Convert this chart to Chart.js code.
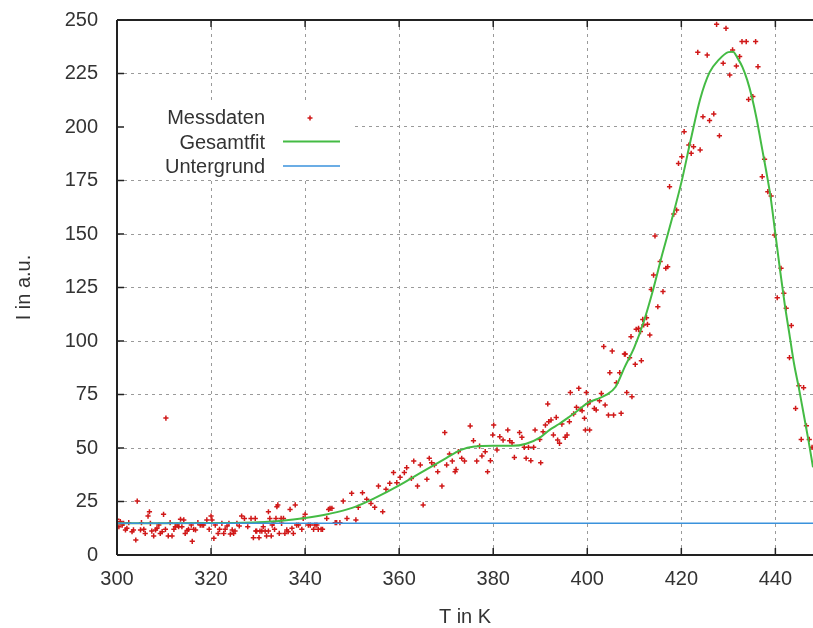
<!DOCTYPE html>
<html>
<head>
<meta charset="utf-8">
<script src="https://cdn.jsdelivr.net/npm/chart.js@4/dist/chart.umd.min.js"></script>
<style>
html,body{margin:0;padding:0;background:#fff;}
#wrap{width:813px;height:628px;}
</style>
</head>
<body>
<div id="wrap"><canvas id="c" width="813" height="628"></canvas></div>
<script>
// Messdaten (T in K, I in a.u.)
const measT = [
300.0,300.4,300.7,301.1,301.4,301.8,302.1,302.5,303.2,303.5,304.0,304.3,305.0,305.2,305.7,306.0,306.6,306.9,307.1,307.4,
307.8,308.2,308.5,308.9,309.2,309.6,309.9,310.3,310.4,310.9,311.3,311.7,312.1,312.4,312.8,313.1,313.5,313.8,314.2,314.5,
314.9,315.2,315.8,316.0,316.3,316.7,317.2,317.7,318.1,318.4,319.1,319.6,320.0,320.2,320.6,320.9,321.5,321.8,322.3,322.7,
323.0,323.4,323.8,324.1,324.5,324.8,325.1,325.5,326.0,326.5,327.1,327.8,328.5,329.0,329.4,329.5,329.7,330.2,330.4,330.8,
331.1,331.5,331.8,332.2,332.2,332.5,332.8,333.0,333.3,333.5,333.8,334.0,334.2,334.5,334.9,335.0,335.4,335.7,336.1,336.4,
336.8,337.2,337.5,337.9,338.2,338.6,339.3,339.6,340.0,340.7,341.1,341.8,342.1,342.5,342.8,343.4,343.7,344.6,345.0,345.3,
345.7,346.4,346.7,347.4,348.1,348.9,349.9,350.8,351.3,352.2,353.1,354.0,354.8,355.6,356.5,357.2,358.0,358.8,359.5,360.2,
361.1,361.6,362.6,363.1,363.9,364.5,365.1,365.9,366.4,366.9,367.5,368.2,369.1,369.7,370.1,370.7,371.3,371.9,372.1,372.6,
373.3,373.9,375.1,375.8,376.5,377.1,377.6,378.3,378.8,379.4,379.9,380.1,380.8,381.4,382.1,383.1,383.5,384.0,384.5,385.6,
386.1,386.6,387.0,387.5,388.0,388.6,388.9,389.9,390.1,390.6,391.1,391.6,391.8,392.3,392.8,393.4,393.7,394.1,394.6,395.3,
395.7,396.2,396.4,397.1,397.7,398.2,398.5,398.9,399.4,399.6,399.8,400.1,400.5,400.6,401.5,401.9,402.6,403.0,403.5,403.8,
404.5,404.8,405.3,405.6,406.2,406.9,407.2,407.9,408.1,408.4,409.0,409.3,409.5,410.2,410.4,410.9,411.3,411.5,411.8,412.0,
412.6,412.8,413.3,413.6,414.1,414.4,415.0,415.5,416.1,416.7,417.1,417.5,418.4,419.0,419.4,420.1,420.6,421.6,422.1,422.6,
423.5,424.0,424.6,425.5,426.0,426.9,427.5,428.1,428.9,429.5,430.3,430.9,431.7,432.4,432.9,433.8,434.3,435.2,435.8,436.3,
437.2,437.7,438.4,439.1,439.8,440.4,441.2,441.8,442.3,443.0,443.4,444.3,445.0,445.5,446.0,446.6,447.2,447.8
];
const measI = [
16.7,13.2,15.6,14.0,14.8,11.7,12.5,15.1,10.9,11.7,7.0,25.2,11.7,15.1,12.0,10.1,18.2,20.2,14.8,11.2,
8.9,11.7,12.5,14.0,10.1,10.9,19.0,12.0,64.0,8.9,15.1,8.9,12.0,13.2,14.0,13.2,16.7,13.2,16.4,10.1,
11.4,12.0,14.0,6.4,12.0,11.7,15.1,14.0,14.0,14.0,16.4,12.0,18.2,16.4,7.8,14.0,10.1,12.0,14.8,10.1,
12.0,13.6,14.8,9.8,11.7,10.1,11.2,14.8,13.6,18.2,17.1,13.2,17.1,8.1,17.1,11.2,11.2,8.1,11.2,11.2,
13.2,11.2,8.9,20.2,11.2,17.1,8.9,14.0,14.8,12.0,17.1,22.6,23.4,10.1,17.1,14.8,17.1,10.1,11.7,10.9,
21.3,12.5,10.1,23.4,14.0,14.0,12.0,17.1,19.0,14.0,14.0,12.0,14.0,14.0,12.0,12.0,12.0,17.1,21.3,21.8,
21.8,15.1,15.1,15.1,25.2,17.1,28.8,16.4,22.3,29.1,26.0,24.1,22.3,32.2,20.2,30.7,33.5,38.5,33.8,36.3,
38.5,40.8,35.8,43.9,32.2,42.1,23.4,35.4,45.2,43.1,42.1,38.9,32.2,57.2,42.1,47.2,43.9,38.9,40.0,48.3,
45.2,43.9,60.3,53.4,43.9,50.9,46.3,48.3,38.9,44.1,56.1,60.7,49.1,55.3,53.7,58.4,53.4,52.5,45.6,57.2,
55.0,50.3,45.2,50.3,44.1,50.3,58.4,54.0,43.1,57.6,60.7,70.6,62.3,63.1,56.1,64.3,53.7,52.2,61.2,55.0,
56.1,62.3,75.9,65.9,69.0,77.9,68.1,67.4,63.9,58.4,75.9,70.6,58.4,71.7,68.5,67.8,72.1,75.5,97.4,70.1,
65.4,85.2,95.3,65.4,80.5,85.2,66.2,93.9,93.9,75.9,92.2,102.0,74.0,89.1,105.5,105.9,104.4,90.8,110.1,107.5,
110.9,107.8,102.8,124.1,130.8,149.1,116.0,137.1,123.1,134.0,134.7,172.1,159.3,161.2,183.0,186.1,197.8,191.6,187.7,190.8,
234.9,189.3,204.8,233.6,203.0,206.1,248.0,195.9,229.8,246.1,224.3,236.0,228.5,232.9,239.9,239.9,212.9,214.2,239.9,228.2,
176.8,184.9,169.8,167.8,149.5,120.2,134.0,122.3,115.3,92.2,107.2,68.5,79.1,54.0,78.2,60.4,54.0,50.3
];
// Gesamtfit
const fitT = [300,310,320,325,330,335,340,345,350,355,360,365,370,373,376,380,384,387,390,392,394,396,398,400,402,404,406,408,410,412,414,416,418,420,422,424,426,428,430,431,432,433,434,435,436,437,438,439,440,441,442,443,444,445,446,447,448];
const fitI = [14.8,14.8,14.9,15.0,15.3,16.0,17.3,19.2,22.0,26.8,32.5,39.0,45.3,49.0,50.7,51.0,51.0,52.0,55.0,58.5,61.2,64.3,67.5,71.0,72.8,74.8,78.5,88,97,109,124,141,157,174,194,213,225.5,231.5,235,235.2,232,228,222,214,204,192,180,167,150,133,117,103,89,78,66,54,41];
// Untergrund
const bgT = [300,448];
const bgI = [14.8,14.8];
// Axes
const xTicks = [300,320,340,360,380,400,420,440];
const yTicks = [0,25,50,75,100,125,150,175,200,225,250];
const xMin = 300, xMax = 448, yMin = 0, yMax = 250;

const FONT = '"Liberation Sans", Arial, sans-serif';
const TXT = '#333333';
const RED = '#d01818', GREEN = '#44bb44', BLUE = '#3a92dc';

const frame = {
  id: 'frame',
  beforeDatasetsDraw(chart) {
    const {ctx, chartArea: a} = chart;
    ctx.save();
    ctx.fillStyle = '#ffffff';
    ctx.fillRect(a.left + 1, 104, 350 - a.left, 75);
    ctx.restore();
  },
  afterDraw(chart) {
    const {ctx, chartArea: a, scales} = chart;
    ctx.save();
    ctx.strokeStyle = '#222';
    ctx.lineWidth = 2;
    ctx.beginPath();
    ctx.moveTo(a.left, a.top); ctx.lineTo(a.right, a.top);
    ctx.moveTo(a.left, a.top); ctx.lineTo(a.left, a.bottom);
    ctx.moveTo(a.left, a.bottom); ctx.lineTo(a.right, a.bottom);
    ctx.stroke();
    ctx.lineWidth = 1.5;
    ctx.beginPath();
    yTicks.forEach(v => {
      const y = scales.y.getPixelForValue(v);
      ctx.moveTo(a.left, y); ctx.lineTo(a.left + 7, y);
    });
    xTicks.forEach(v => {
      const x = scales.x.getPixelForValue(v);
      ctx.moveTo(x, a.bottom); ctx.lineTo(x, a.bottom - 7);
      ctx.moveTo(x, a.top); ctx.lineTo(x, a.top + 7);
    });
    ctx.stroke();
    // legend
    ctx.font = '20px ' + FONT;
    ctx.fillStyle = TXT;
    ctx.textAlign = 'right';
    ctx.textBaseline = 'alphabetic';
    const labels = ['Messdaten', 'Gesamtfit', 'Untergrund'];
    const base = [124, 148.5, 173];
    labels.forEach((t, i) => ctx.fillText(t, 265, base[i]));
    ctx.strokeStyle = RED; ctx.lineWidth = 1.5;
    ctx.beginPath();
    ctx.moveTo(307.5, 118); ctx.lineTo(312.5, 118);
    ctx.moveTo(310, 115.5); ctx.lineTo(310, 120.5);
    ctx.stroke();
    ctx.strokeStyle = GREEN; ctx.lineWidth = 2;
    ctx.beginPath(); ctx.moveTo(283, 141.5); ctx.lineTo(340, 141.5); ctx.stroke();
    ctx.strokeStyle = BLUE; ctx.lineWidth = 1.5;
    ctx.beginPath(); ctx.moveTo(283, 166); ctx.lineTo(340, 166); ctx.stroke();
    // axis titles
    ctx.fillStyle = TXT;
    ctx.textAlign = 'center';
    ctx.textBaseline = 'alphabetic';
    ctx.fillText('T in K', (a.left + a.right) / 2, 623);
    ctx.translate(30, (a.top + a.bottom) / 2);
    ctx.rotate(-Math.PI / 2);
    ctx.fillText('I in a.u.', 0, 0);
    ctx.restore();
  }
};

const toXY = (xs, ys) => xs.map((x, i) => ({x: x, y: ys[i]}));

new Chart(document.getElementById('c'), {
  type: 'scatter',
  data: {
    datasets: [
      {
        label: 'Untergrund', data: toXY(bgT, bgI), showLine: true,
        borderColor: BLUE, borderWidth: 1.5, pointRadius: 0, order: 1
      },
      {
        label: 'Gesamtfit', data: toXY(fitT, fitI), showLine: true,
        borderColor: GREEN, borderWidth: 2, pointRadius: 0,
        cubicInterpolationMode: 'monotone', order: 2
      },
      {
        label: 'Messdaten', data: toXY(measT, measI), showLine: false,
        pointStyle: 'cross', pointRadius: 2.6, borderColor: RED, backgroundColor: RED,
        pointBorderWidth: 1.5, order: 3
      }
    ]
  },
  options: {
    responsive: false,
    animation: false,
    devicePixelRatio: 1,
    layout: {autoPadding: false, padding: {top: 20, left: 0, right: 0, bottom: 0}},
    plugins: {legend: {display: false}, tooltip: {enabled: false}},
    scales: {
      x: {
        type: 'linear', min: xMin, max: xMax,
        afterFit: s => { s.height = 73; s.paddingLeft = 0; s.paddingRight = 0; },
        afterBuildTicks: s => { s.ticks = xTicks.map(v => ({value: v})); },
        ticks: {stepSize: 20, padding: 12, color: TXT, font: {family: FONT, size: 20}, maxRotation: 0},
        grid: {color: '#9a9a9a', lineWidth: 1, drawTicks: false},
        border: {display: false, dash: [3, 4]}
      },
      y: {
        type: 'linear', min: yMin, max: yMax,
        afterFit: s => { s.width = 117; s.paddingTop = 0; s.paddingBottom = 0; },
        afterBuildTicks: s => { s.ticks = yTicks.map(v => ({value: v})); },
        ticks: {stepSize: 25, padding: 19, color: TXT, font: {family: FONT, size: 20}},
        grid: {color: '#9a9a9a', lineWidth: 1, drawTicks: false},
        border: {display: false, dash: [3, 4]}
      }
    }
  },
  plugins: [frame]
});
</script>
</body>
</html>
